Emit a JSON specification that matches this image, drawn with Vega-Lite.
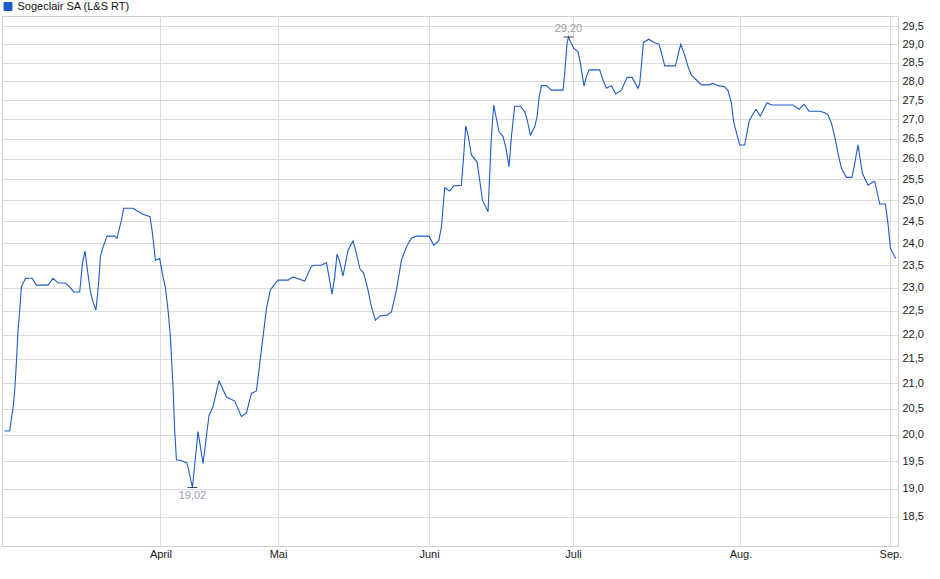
{
  "$schema": "https://vega.github.io/schema/vega-lite/v6.json",
  "autosize": "none",
  "width": 896,
  "height": 530,
  "padding": {"left": 2, "top": 16, "right": 42, "bottom": 33},
  "background": "white",
  "datasets": {
    "kurs": [
      {"t": 0.0, "price": 20.07}, {"t": 1.01, "price": 20.07}, {"t": 1.35, "price": 20.31}, {"t": 1.68, "price": 20.51},
      {"t": 2.02, "price": 20.86}, {"t": 2.36, "price": 21.43}, {"t": 2.69, "price": 22.09}, {"t": 3.03, "price": 22.52},
      {"t": 3.37, "price": 23.02}, {"t": 3.7, "price": 23.1}, {"t": 4.24, "price": 23.21}, {"t": 5.52, "price": 23.21},
      {"t": 6.4, "price": 23.06}, {"t": 8.75, "price": 23.06}, {"t": 9.76, "price": 23.21}, {"t": 10.77, "price": 23.11},
      {"t": 12.32, "price": 23.1}, {"t": 13.13, "price": 23.02}, {"t": 13.94, "price": 22.91}, {"t": 15.15, "price": 22.91},
      {"t": 15.7, "price": 23.54}, {"t": 16.22, "price": 23.82}, {"t": 16.71, "price": 23.39}, {"t": 17.31, "price": 22.91},
      {"t": 17.84, "price": 22.69}, {"t": 18.44, "price": 22.52}, {"t": 18.99, "price": 23.13}, {"t": 19.33, "price": 23.69},
      {"t": 19.86, "price": 23.91}, {"t": 20.67, "price": 24.16}, {"t": 22.22, "price": 24.16}, {"t": 22.69, "price": 24.11},
      {"t": 23.23, "price": 24.37}, {"t": 23.58, "price": 24.53}, {"t": 24.04, "price": 24.81}, {"t": 25.92, "price": 24.81},
      {"t": 27.94, "price": 24.67}, {"t": 29.35, "price": 24.61}, {"t": 29.84, "price": 24.23}, {"t": 30.44, "price": 23.61},
      {"t": 31.31, "price": 23.65}, {"t": 31.98, "price": 23.24}, {"t": 32.46, "price": 23.01}, {"t": 32.99, "price": 22.52},
      {"t": 33.47, "price": 21.95}, {"t": 34.0, "price": 20.93}, {"t": 34.34, "price": 20.08}, {"t": 34.69, "price": 19.53},
      {"t": 35.7, "price": 19.51}, {"t": 36.83, "price": 19.47}, {"t": 37.92, "price": 19.02}, {"t": 39.05, "price": 20.06},
      {"t": 40.06, "price": 19.46}, {"t": 41.27, "price": 20.37}, {"t": 42.08, "price": 20.54}, {"t": 43.29, "price": 21.05},
      {"t": 44.79, "price": 20.73}, {"t": 46.46, "price": 20.65}, {"t": 47.82, "price": 20.35}, {"t": 48.83, "price": 20.42},
      {"t": 49.84, "price": 20.8}, {"t": 50.85, "price": 20.85}, {"t": 51.52, "price": 21.4}, {"t": 52.18, "price": 21.95},
      {"t": 52.87, "price": 22.55}, {"t": 53.68, "price": 22.96}, {"t": 55.21, "price": 23.17}, {"t": 57.23, "price": 23.17},
      {"t": 58.24, "price": 23.24}, {"t": 60.61, "price": 23.15}, {"t": 61.96, "price": 23.48}, {"t": 62.63, "price": 23.5},
      {"t": 63.98, "price": 23.5}, {"t": 64.99, "price": 23.56}, {"t": 65.52, "price": 23.24}, {"t": 66.12, "price": 22.86},
      {"t": 66.67, "price": 23.24}, {"t": 67.13, "price": 23.75}, {"t": 67.68, "price": 23.58}, {"t": 68.34, "price": 23.26},
      {"t": 69.35, "price": 23.84}, {"t": 70.36, "price": 24.05}, {"t": 71.05, "price": 23.77}, {"t": 71.72, "price": 23.43},
      {"t": 72.53, "price": 23.32}, {"t": 73.39, "price": 22.95}, {"t": 74.08, "price": 22.59}, {"t": 74.89, "price": 22.3},
      {"t": 75.76, "price": 22.39}, {"t": 77.23, "price": 22.41}, {"t": 78.12, "price": 22.48}, {"t": 79.13, "price": 22.95},
      {"t": 80.14, "price": 23.61}, {"t": 81.15, "price": 23.91}, {"t": 82.16, "price": 24.11}, {"t": 83.17, "price": 24.16},
      {"t": 85.72, "price": 24.16}, {"t": 86.67, "price": 23.95}, {"t": 87.68, "price": 24.05}, {"t": 88.22, "price": 24.37},
      {"t": 88.89, "price": 25.3}, {"t": 89.9, "price": 25.22}, {"t": 90.71, "price": 25.34}, {"t": 92.26, "price": 25.36},
      {"t": 92.73, "price": 26.1}, {"t": 93.13, "price": 26.83}, {"t": 93.6, "price": 26.6}, {"t": 94.28, "price": 26.1},
      {"t": 95.41, "price": 25.93}, {"t": 95.96, "price": 25.48}, {"t": 96.5, "price": 25.0}, {"t": 97.64, "price": 24.73},
      {"t": 98.12, "price": 26.02}, {"t": 98.32, "price": 26.56}, {"t": 98.79, "price": 27.37}, {"t": 99.19, "price": 27.11},
      {"t": 99.86, "price": 26.68}, {"t": 100.67, "price": 26.56}, {"t": 101.21, "price": 26.3}, {"t": 101.88, "price": 25.81},
      {"t": 102.36, "price": 26.56}, {"t": 103.03, "price": 27.34}, {"t": 104.18, "price": 27.34}, {"t": 105.05, "price": 27.2},
      {"t": 105.52, "price": 27.0}, {"t": 106.2, "price": 26.6}, {"t": 107.07, "price": 26.81}, {"t": 107.54, "price": 27.07},
      {"t": 107.94, "price": 27.55}, {"t": 108.42, "price": 27.88}, {"t": 109.43, "price": 27.88}, {"t": 110.44, "price": 27.76},
      {"t": 112.79, "price": 27.76}, {"t": 113.13, "price": 28.21}, {"t": 113.6, "price": 29.03}, {"t": 113.88, "price": 29.2},
      {"t": 114.28, "price": 29.07}, {"t": 114.95, "price": 28.89}, {"t": 115.82, "price": 28.79}, {"t": 116.3, "price": 28.48},
      {"t": 116.71, "price": 28.12}, {"t": 117.03, "price": 27.87}, {"t": 117.52, "price": 28.12}, {"t": 118.04, "price": 28.3},
      {"t": 120.2, "price": 28.3}, {"t": 120.75, "price": 28.07}, {"t": 121.56, "price": 27.81}, {"t": 122.57, "price": 27.88},
      {"t": 123.43, "price": 27.66}, {"t": 124.59, "price": 27.76}, {"t": 125.72, "price": 28.1}, {"t": 126.73, "price": 28.1},
      {"t": 127.94, "price": 27.81}, {"t": 128.28, "price": 27.94}, {"t": 128.63, "price": 28.43}, {"t": 129.03, "price": 29.05},
      {"t": 130.1, "price": 29.14}, {"t": 131.31, "price": 29.04}, {"t": 132.18, "price": 29.0}, {"t": 132.87, "price": 28.66},
      {"t": 133.33, "price": 28.41}, {"t": 135.49, "price": 28.41}, {"t": 136.02, "price": 28.7}, {"t": 136.57, "price": 29.0},
      {"t": 137.37, "price": 28.7}, {"t": 138.04, "price": 28.39}, {"t": 138.73, "price": 28.16}, {"t": 139.74, "price": 28.03},
      {"t": 140.75, "price": 27.9}, {"t": 142.28, "price": 27.9}, {"t": 143.09, "price": 27.94}, {"t": 144.1, "price": 27.88},
      {"t": 145.45, "price": 27.85}, {"t": 146.12, "price": 27.75}, {"t": 146.81, "price": 27.42}, {"t": 147.27, "price": 26.93},
      {"t": 147.82, "price": 26.66}, {"t": 148.48, "price": 26.35}, {"t": 149.49, "price": 26.35}, {"t": 150.4, "price": 26.96},
      {"t": 151.05, "price": 27.11}, {"t": 151.78, "price": 27.26}, {"t": 152.63, "price": 27.08}, {"t": 154.0, "price": 27.43},
      {"t": 154.89, "price": 27.37}, {"t": 159.25, "price": 27.37}, {"t": 160.46, "price": 27.26}, {"t": 161.47, "price": 27.39},
      {"t": 162.48, "price": 27.21}, {"t": 164.65, "price": 27.21}, {"t": 165.66, "price": 27.17}, {"t": 166.32, "price": 27.11},
      {"t": 167.01, "price": 26.9}, {"t": 167.68, "price": 26.56}, {"t": 168.34, "price": 26.14}, {"t": 169.03, "price": 25.77},
      {"t": 170.04, "price": 25.55}, {"t": 171.17, "price": 25.55}, {"t": 171.72, "price": 25.89}, {"t": 172.38, "price": 26.35},
      {"t": 173.27, "price": 25.65}, {"t": 174.4, "price": 25.36}, {"t": 175.29, "price": 25.43}, {"t": 175.76, "price": 25.45},
      {"t": 176.77, "price": 24.91}, {"t": 177.92, "price": 24.91}, {"t": 178.44, "price": 24.45}, {"t": 178.93, "price": 23.88},
      {"t": 180.0, "price": 23.65}
    ],
    "extreme": [
      {"t": 113.88, "price": 29.2, "label": "29,20", "kind": "max"},
      {"t": 37.92, "price": 19.02, "label": "19,02", "kind": "min"}
    ]
  },
  "encoding": {
    "x": {
      "field": "t",
      "type": "quantitative",
      "scale": {"domain": [-0.55, 180.46], "nice": false, "zero": false},
      "axis": {
        "title": null,
        "values": [31.45, 55.21, 85.72, 114.81, 148.63, 178.93],
        "labelExpr": "datum.value < 40 ? 'April' : datum.value < 70 ? 'Mai' : datum.value < 100 ? 'Juni' : datum.value < 130 ? 'Juli' : datum.value < 160 ? 'Aug.' : 'Sep.'",
        "ticks": false,
        "domain": false,
        "labelPadding": 2,
        "labelFlush": false
      }
    },
    "y": {
      "field": "price",
      "type": "quantitative",
      "scale": {"type": "log", "domain": [17.99, 29.79], "nice": false, "zero": false},
      "axis": {
        "title": null,
        "orient": "right",
        "values": [18.5, 19, 19.5, 20, 20.5, 21, 21.5, 22, 22.5, 23, 23.5, 24, 24.5, 25, 25.5, 26, 26.5, 27, 27.5, 28, 28.5, 29, 29.5],
        "labelExpr": "replace(format(datum.value, '.1f'), '.', ',')",
        "ticks": false,
        "domain": false,
        "labelPadding": 4
      }
    }
  },
  "layer": [
    {
      "data": {"name": "kurs"},
      "transform": [{"calculate": "'Sogeclair SA (L&S RT)'", "as": "series"}],
      "mark": {"type": "line", "strokeWidth": 1.1, "interpolate": "linear"},
      "encoding": {
        "color": {
          "field": "series",
          "type": "nominal",
          "scale": {"range": ["#1d5cc8"]},
          "legend": {
            "title": null,
            "orient": "none",
            "legendX": 0.5,
            "legendY": -15,
            "padding": 0,
            "symbolType": "square",
            "symbolSize": 64,
            "labelFontSize": 11,
            "labelColor": "#111",
            "labelOffset": 4,
            "labelFont": "Liberation Sans",
            "encode": {
              "symbols": {
                "update": {
                  "fill": {"value": "#1d5cc8"},
                  "stroke": {"value": "#10306e"},
                  "strokeWidth": {"value": 1},
                  "opacity": {"value": 1}
                }
              }
            }
          }
        }
      }
    },
    {
      "data": {"name": "extreme"},
      "mark": {"type": "tick", "orient": "horizontal", "color": "#000", "size": 10, "thickness": 1}
    },
    {
      "data": {"name": "extreme"},
      "transform": [{"filter": "datum.kind == 'max'"}],
      "mark": {"type": "text", "baseline": "bottom", "dy": -3, "fontSize": 11, "color": "#a09a98", "font": "Liberation Sans"},
      "encoding": {"text": {"field": "label"}}
    },
    {
      "data": {"name": "extreme"},
      "transform": [{"filter": "datum.kind == 'min'"}],
      "mark": {"type": "text", "baseline": "top", "dy": 3, "fontSize": 11, "color": "#9aa3b5", "font": "Liberation Sans"},
      "encoding": {"text": {"field": "label"}}
    }
  ],
  "config": {
    "view": {"stroke": "#cfcfcf", "strokeWidth": 1},
    "axis": {
      "gridColor": "#dcdcdc",
      "gridWidth": 1,
      "labelFont": "Liberation Sans",
      "labelFontSize": 11,
      "labelColor": "#1a1a1a"
    }
  }
}
